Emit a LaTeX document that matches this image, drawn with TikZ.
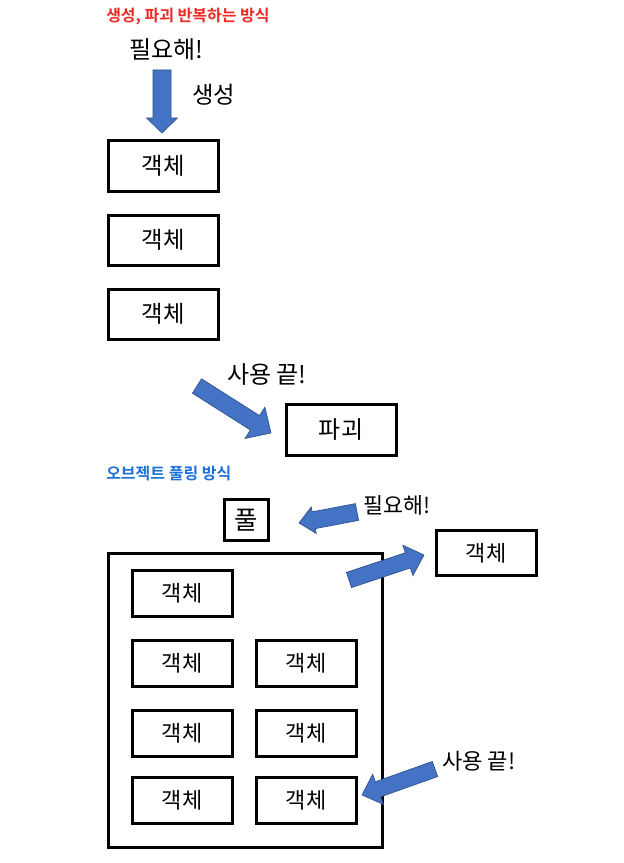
\documentclass[tikz,border=0pt]{standalone}
\usepackage{fontspec}
\setmainfont{Noto Sans CJK KR}
\newfontfamily\krbold{Noto Sans CJK KR Bold}
\usetikzlibrary{calc}
\definecolor{arrowfill}{HTML}{4472C4}
\definecolor{arrowline}{HTML}{2F528F}
\definecolor{titlered}{HTML}{EE2A24}
\definecolor{titleblue}{HTML}{1F70D8}
\tikzset{
  box/.style={draw=black, line width=2.25pt, fill=white, inner sep=0pt},
  bigbox/.style={box, minimum width=82.5pt, minimum height=37.5pt, font=\fontsize{17.5}{20}\selectfont},
  smallbox/.style={box, minimum width=75pt, minimum height=34.5pt, font=\fontsize{16.5}{19}\selectfont},
  lbl/.style={inner sep=0pt, font=\fontsize{17.5}{20}\selectfont},
  ttl/.style={inner sep=0pt, anchor=west, font=\krbold\fontsize{12}{14}\selectfont},
  blockarr/.style={fill=arrowfill, draw=arrowline, line width=0.5pt, line join=miter}
}
\newcommand\blockarrow[5]{%
  \coordinate (ba-s) at #1; \coordinate (ba-e) at #2;
  \coordinate (ba-h) at ($(ba-e)!#5!(ba-s)$);
  \path[blockarr] ($(ba-s)!#3!90:(ba-e)$) -- ($(ba-h)!#3!90:(ba-e)$) -- ($(ba-h)!#4!90:(ba-e)$)
    -- (ba-e) -- ($(ba-h)!#4!-90:(ba-e)$) -- ($(ba-h)!#3!-90:(ba-e)$) -- ($(ba-s)!#3!-90:(ba-e)$) -- cycle;
}
\begin{document}
\begin{tikzpicture}[x=0.75pt, y=-0.75pt]
\useasboundingbox[fill=white] (0,0) rectangle (624,863);
% top section
\node[ttl, text=titlered] (t1) at (106,17) {생성, 파괴 반복하는 방식};
\node[lbl, anchor=west, font=\fontsize{18}{21}\selectfont] (need1) at (129,50) {필요해!};
\blockarrow{(162,70)}{(162,133)}{6.75pt}{11.6pt}{11.25pt}
\node[lbl, anchor=west] (make) at (192,95) {생성};
\node[bigbox] (o1) at (163,166) {객체};
\node[bigbox] (o2) at (163,240) {객체};
\node[bigbox] (o3) at (163,314) {객체};
\node[lbl, anchor=west, font=\fontsize{18}{21}\selectfont] (done1) at (227,375) {사용 끝!};
\blockarrow{(197,386)}{(271,433)}{6.4pt}{13.9pt}{14.25pt}
\node[bigbox, minimum height=38.25pt, font=\fontsize{18}{21}\selectfont] (destroy) at (341,430) {파괴};
% bottom section
\node[ttl, text=titleblue] (t2) at (106,474) {오브젝트 풀링 방식};
\node[box, minimum width=33pt, minimum height=30.75pt, font=\fontsize{19}{22}\selectfont] (pool) at (246,520) {풀};
\node[lbl, anchor=west, font=\fontsize{16.3}{19}\selectfont] (need2) at (363,505) {필요해!};
\blockarrow{(357,512)}{(299,523)}{6.4pt}{10.1pt}{11.25pt}
\node[smallbox, minimum height=33.75pt] (out) at (486,553) {객체};
\node[box, minimum width=205.5pt, minimum height=220.5pt] (container) at (245,700) {};
\blockarrow{(349,580)}{(424,555)}{6pt}{12pt}{12.75pt}
\node[smallbox] (p1) at (182,593) {객체};
\node[smallbox] (p2) at (182,663) {객체};
\node[smallbox] (p3) at (306,663) {객체};
\node[smallbox] (p4) at (182,733) {객체};
\node[smallbox] (p5) at (306,733) {객체};
\node[smallbox] (p6) at (182,800) {객체};
\node[smallbox] (p7) at (306,800) {객체};
\node[lbl, anchor=west, font=\fontsize{16.6}{19}\selectfont] (done2) at (442,761) {사용 끝!};
\blockarrow{(435,769)}{(362,795)}{6pt}{12pt}{12.75pt}
\end{tikzpicture}
\end{document}
